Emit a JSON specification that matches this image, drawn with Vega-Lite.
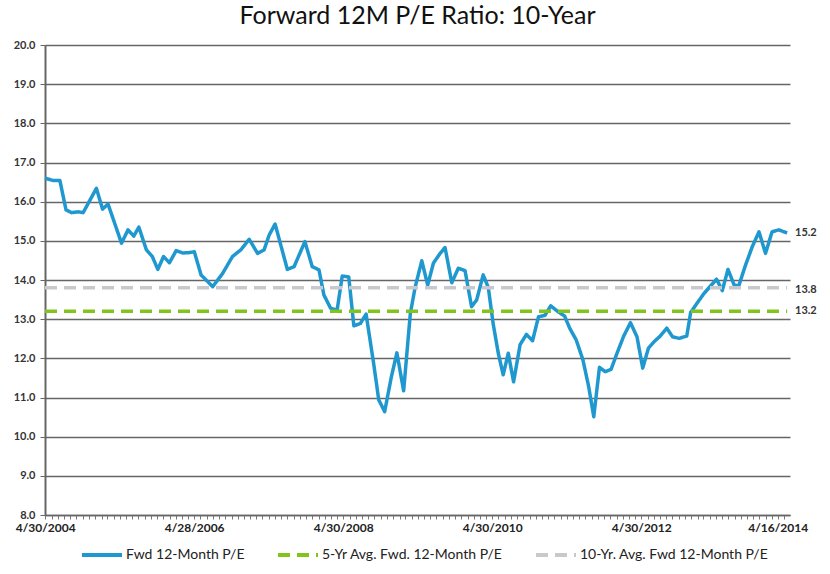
{
  "$schema": "https://vega.github.io/schema/vega-lite/v6.json",
  "width": 745,
  "height": 470,
  "autosize": {"type": "none"},
  "padding": {"left": 45, "top": 45, "right": 40, "bottom": 59},
  "background": "white",
  "title": {"text": "Forward 12M P/E Ratio: 10-Year", "fontSize": 25, "font": "Lato", "fontWeight": "normal", "color": "#111111", "anchor": "middle", "offset": 10},
  "config": {"view": {"stroke": null}, "font": "Lato"},
  "encoding": {
    "x": {
      "field": "date", "type": "temporal",
      "scale": {"domain": [{"year": 2004, "month": 4, "date": 30}, {"year": 2014, "month": 4, "date": 30}]},
      "axis": {
        "title": null,
        "grid": false,
        "ticks": true,
        "tickCount": {"interval": "month", "step": 1},
        "labelExpr": "year(datum.value)==2004 && month(datum.value)==4 ? '4/30/2004' : year(datum.value)==2006 && month(datum.value)==4 ? '4/28/2006' : year(datum.value)==2008 && month(datum.value)==4 ? '4/30/2008' : year(datum.value)==2010 && month(datum.value)==4 ? '4/30/2010' : year(datum.value)==2012 && month(datum.value)==4 ? '4/30/2012' : year(datum.value)==2014 && month(datum.value)==2 ? '4/16/2014' : ''",
        "labelOverlap": false,
        "labelBound": false,
        "labelFlush": false,
        "labelFont": "Lato",
        "labelFontSize": 12,
        "labelFontWeight": "bold",
        "labelColor": "#222222",
        "labelPadding": 3,
        "tickColor": "#777777",
        "tickWidth": 1,
        "tickSize": 4,
        "domainColor": "#666666",
        "domainWidth": 1.5
      }
    },
    "y": {
      "field": "pe", "type": "quantitative",
      "scale": {"domain": [8, 20], "nice": false, "zero": false},
      "axis": {
        "title": null,
        "values": [8, 9, 10, 11, 12, 13, 14, 15, 16, 17, 18, 19, 20],
        "tickCount": 13,
        "labelOverlap": false,
        "format": ".1f",
        "grid": true,
        "gridColor": "#666666",
        "gridWidth": 1.5,
        "domainColor": "#666666",
        "domainWidth": 2,
        "tickColor": "#666666",
        "tickSize": 5,
        "labelFont": "Lato",
        "labelFontSize": 11,
        "labelFontWeight": "bold",
        "labelColor": "#333333",
        "labelPadding": 5
      }
    }
  },
  "layer": [
    {
      "data": {"values": [
        {"date": "2004-04-30", "pe": 16.60, "series": "Fwd 12-Month P/E"},
        {"date": "2004-06-09", "pe": 16.54, "series": "Fwd 12-Month P/E"},
        {"date": "2004-07-12", "pe": 16.54, "series": "Fwd 12-Month P/E"},
        {"date": "2004-08-11", "pe": 15.79, "series": "Fwd 12-Month P/E"},
        {"date": "2004-09-07", "pe": 15.72, "series": "Fwd 12-Month P/E"},
        {"date": "2004-10-10", "pe": 15.74, "series": "Fwd 12-Month P/E"},
        {"date": "2004-11-03", "pe": 15.72, "series": "Fwd 12-Month P/E"},
        {"date": "2005-01-07", "pe": 16.34, "series": "Fwd 12-Month P/E"},
        {"date": "2005-02-06", "pe": 15.81, "series": "Fwd 12-Month P/E"},
        {"date": "2005-03-05", "pe": 15.94, "series": "Fwd 12-Month P/E"},
        {"date": "2005-05-10", "pe": 14.94, "series": "Fwd 12-Month P/E"},
        {"date": "2005-06-11", "pe": 15.28, "series": "Fwd 12-Month P/E"},
        {"date": "2005-07-09", "pe": 15.12, "series": "Fwd 12-Month P/E"},
        {"date": "2005-08-03", "pe": 15.35, "series": "Fwd 12-Month P/E"},
        {"date": "2005-09-09", "pe": 14.77, "series": "Fwd 12-Month P/E"},
        {"date": "2005-10-08", "pe": 14.60, "series": "Fwd 12-Month P/E"},
        {"date": "2005-11-04", "pe": 14.27, "series": "Fwd 12-Month P/E"},
        {"date": "2005-12-02", "pe": 14.60, "series": "Fwd 12-Month P/E"},
        {"date": "2005-12-31", "pe": 14.44, "series": "Fwd 12-Month P/E"},
        {"date": "2006-02-02", "pe": 14.75, "series": "Fwd 12-Month P/E"},
        {"date": "2006-03-06", "pe": 14.69, "series": "Fwd 12-Month P/E"},
        {"date": "2006-04-08", "pe": 14.70, "series": "Fwd 12-Month P/E"},
        {"date": "2006-05-02", "pe": 14.72, "series": "Fwd 12-Month P/E"},
        {"date": "2006-06-04", "pe": 14.13, "series": "Fwd 12-Month P/E"},
        {"date": "2006-07-31", "pe": 13.83, "series": "Fwd 12-Month P/E"},
        {"date": "2006-09-18", "pe": 14.17, "series": "Fwd 12-Month P/E"},
        {"date": "2006-11-05", "pe": 14.60, "series": "Fwd 12-Month P/E"},
        {"date": "2006-12-16", "pe": 14.77, "series": "Fwd 12-Month P/E"},
        {"date": "2007-01-26", "pe": 15.04, "series": "Fwd 12-Month P/E"},
        {"date": "2007-03-08", "pe": 14.68, "series": "Fwd 12-Month P/E"},
        {"date": "2007-04-09", "pe": 14.77, "series": "Fwd 12-Month P/E"},
        {"date": "2007-05-04", "pe": 15.15, "series": "Fwd 12-Month P/E"},
        {"date": "2007-06-02", "pe": 15.43, "series": "Fwd 12-Month P/E"},
        {"date": "2007-08-01", "pe": 14.27, "series": "Fwd 12-Month P/E"},
        {"date": "2007-09-03", "pe": 14.34, "series": "Fwd 12-Month P/E"},
        {"date": "2007-10-26", "pe": 14.98, "series": "Fwd 12-Month P/E"},
        {"date": "2007-12-01", "pe": 14.34, "series": "Fwd 12-Month P/E"},
        {"date": "2008-01-03", "pe": 14.26, "series": "Fwd 12-Month P/E"},
        {"date": "2008-01-27", "pe": 13.62, "series": "Fwd 12-Month P/E"},
        {"date": "2008-02-29", "pe": 13.28, "series": "Fwd 12-Month P/E"},
        {"date": "2008-04-01", "pe": 13.23, "series": "Fwd 12-Month P/E"},
        {"date": "2008-04-26", "pe": 14.10, "series": "Fwd 12-Month P/E"},
        {"date": "2008-05-28", "pe": 14.08, "series": "Fwd 12-Month P/E"},
        {"date": "2008-06-22", "pe": 12.83, "series": "Fwd 12-Month P/E"},
        {"date": "2008-07-24", "pe": 12.89, "series": "Fwd 12-Month P/E"},
        {"date": "2008-08-21", "pe": 13.13, "series": "Fwd 12-Month P/E"},
        {"date": "2008-09-27", "pe": 11.87, "series": "Fwd 12-Month P/E"},
        {"date": "2008-10-22", "pe": 10.94, "series": "Fwd 12-Month P/E"},
        {"date": "2008-11-20", "pe": 10.64, "series": "Fwd 12-Month P/E"},
        {"date": "2008-12-23", "pe": 11.53, "series": "Fwd 12-Month P/E"},
        {"date": "2009-01-19", "pe": 12.14, "series": "Fwd 12-Month P/E"},
        {"date": "2009-02-21", "pe": 11.17, "series": "Fwd 12-Month P/E"},
        {"date": "2009-03-26", "pe": 13.15, "series": "Fwd 12-Month P/E"},
        {"date": "2009-04-19", "pe": 13.83, "series": "Fwd 12-Month P/E"},
        {"date": "2009-05-21", "pe": 14.49, "series": "Fwd 12-Month P/E"},
        {"date": "2009-06-19", "pe": 13.87, "series": "Fwd 12-Month P/E"},
        {"date": "2009-07-17", "pe": 14.43, "series": "Fwd 12-Month P/E"},
        {"date": "2009-08-19", "pe": 14.68, "series": "Fwd 12-Month P/E"},
        {"date": "2009-09-12", "pe": 14.83, "series": "Fwd 12-Month P/E"},
        {"date": "2009-10-15", "pe": 13.93, "series": "Fwd 12-Month P/E"},
        {"date": "2009-11-16", "pe": 14.30, "series": "Fwd 12-Month P/E"},
        {"date": "2009-12-19", "pe": 14.24, "series": "Fwd 12-Month P/E"},
        {"date": "2010-01-20", "pe": 13.32, "series": "Fwd 12-Month P/E"},
        {"date": "2010-02-14", "pe": 13.49, "series": "Fwd 12-Month P/E"},
        {"date": "2010-03-18", "pe": 14.13, "series": "Fwd 12-Month P/E"},
        {"date": "2010-04-12", "pe": 13.81, "series": "Fwd 12-Month P/E"},
        {"date": "2010-05-06", "pe": 12.88, "series": "Fwd 12-Month P/E"},
        {"date": "2010-05-31", "pe": 12.13, "series": "Fwd 12-Month P/E"},
        {"date": "2010-06-24", "pe": 11.58, "series": "Fwd 12-Month P/E"},
        {"date": "2010-07-19", "pe": 12.13, "series": "Fwd 12-Month P/E"},
        {"date": "2010-08-14", "pe": 11.40, "series": "Fwd 12-Month P/E"},
        {"date": "2010-09-15", "pe": 12.35, "series": "Fwd 12-Month P/E"},
        {"date": "2010-10-16", "pe": 12.61, "series": "Fwd 12-Month P/E"},
        {"date": "2010-11-15", "pe": 12.45, "series": "Fwd 12-Month P/E"},
        {"date": "2010-12-14", "pe": 13.06, "series": "Fwd 12-Month P/E"},
        {"date": "2011-01-15", "pe": 13.10, "series": "Fwd 12-Month P/E"},
        {"date": "2011-02-12", "pe": 13.34, "series": "Fwd 12-Month P/E"},
        {"date": "2011-03-20", "pe": 13.19, "series": "Fwd 12-Month P/E"},
        {"date": "2011-04-21", "pe": 13.08, "series": "Fwd 12-Month P/E"},
        {"date": "2011-05-16", "pe": 12.77, "series": "Fwd 12-Month P/E"},
        {"date": "2011-06-17", "pe": 12.47, "series": "Fwd 12-Month P/E"},
        {"date": "2011-07-20", "pe": 11.96, "series": "Fwd 12-Month P/E"},
        {"date": "2011-08-17", "pe": 11.28, "series": "Fwd 12-Month P/E"},
        {"date": "2011-09-11", "pe": 10.51, "series": "Fwd 12-Month P/E"},
        {"date": "2011-10-09", "pe": 11.77, "series": "Fwd 12-Month P/E"},
        {"date": "2011-11-06", "pe": 11.66, "series": "Fwd 12-Month P/E"},
        {"date": "2011-12-05", "pe": 11.72, "series": "Fwd 12-Month P/E"},
        {"date": "2012-01-03", "pe": 12.13, "series": "Fwd 12-Month P/E"},
        {"date": "2012-02-05", "pe": 12.57, "series": "Fwd 12-Month P/E"},
        {"date": "2012-03-09", "pe": 12.91, "series": "Fwd 12-Month P/E"},
        {"date": "2012-04-10", "pe": 12.55, "series": "Fwd 12-Month P/E"},
        {"date": "2012-05-08", "pe": 11.75, "series": "Fwd 12-Month P/E"},
        {"date": "2012-06-05", "pe": 12.26, "series": "Fwd 12-Month P/E"},
        {"date": "2012-07-04", "pe": 12.43, "series": "Fwd 12-Month P/E"},
        {"date": "2012-08-02", "pe": 12.57, "series": "Fwd 12-Month P/E"},
        {"date": "2012-09-03", "pe": 12.77, "series": "Fwd 12-Month P/E"},
        {"date": "2012-10-01", "pe": 12.55, "series": "Fwd 12-Month P/E"},
        {"date": "2012-11-03", "pe": 12.51, "series": "Fwd 12-Month P/E"},
        {"date": "2012-12-10", "pe": 12.57, "series": "Fwd 12-Month P/E"},
        {"date": "2012-12-29", "pe": 13.17, "series": "Fwd 12-Month P/E"},
        {"date": "2013-01-31", "pe": 13.42, "series": "Fwd 12-Month P/E"},
        {"date": "2013-03-05", "pe": 13.66, "series": "Fwd 12-Month P/E"},
        {"date": "2013-04-06", "pe": 13.85, "series": "Fwd 12-Month P/E"},
        {"date": "2013-05-05", "pe": 14.02, "series": "Fwd 12-Month P/E"},
        {"date": "2013-06-02", "pe": 13.73, "series": "Fwd 12-Month P/E"},
        {"date": "2013-06-30", "pe": 14.27, "series": "Fwd 12-Month P/E"},
        {"date": "2013-08-01", "pe": 13.85, "series": "Fwd 12-Month P/E"},
        {"date": "2013-08-23", "pe": 13.87, "series": "Fwd 12-Month P/E"},
        {"date": "2013-09-24", "pe": 14.38, "series": "Fwd 12-Month P/E"},
        {"date": "2013-10-27", "pe": 14.85, "series": "Fwd 12-Month P/E"},
        {"date": "2013-11-29", "pe": 15.23, "series": "Fwd 12-Month P/E"},
        {"date": "2013-12-31", "pe": 14.68, "series": "Fwd 12-Month P/E"},
        {"date": "2014-02-01", "pe": 15.23, "series": "Fwd 12-Month P/E"},
        {"date": "2014-03-06", "pe": 15.28, "series": "Fwd 12-Month P/E"},
        {"date": "2014-04-16", "pe": 15.20, "series": "Fwd 12-Month P/E"},
        {"date": "2004-04-30", "pe": 13.2, "series": "5-Yr Avg. Fwd. 12-Month P/E"},
        {"date": "2014-04-16", "pe": 13.2, "series": "5-Yr Avg. Fwd. 12-Month P/E"},
        {"date": "2004-04-30", "pe": 13.8, "series": "10-Yr. Avg. Fwd 12-Month P/E"},
        {"date": "2014-04-16", "pe": 13.8, "series": "10-Yr. Avg. Fwd 12-Month P/E"}
      ]},
      "mark": {"type": "line", "strokeWidth": 3.5, "strokeJoin": "round"},
      "encoding": {
        "color": {
          "field": "series", "type": "nominal",
          "scale": {"domain": ["Fwd 12-Month P/E", "5-Yr Avg. Fwd. 12-Month P/E", "10-Yr. Avg. Fwd 12-Month P/E"], "range": ["#1f98cf", "#80c41c", "#c9c9cd"]},
          "legend": {"title": null, "orient": "none", "legendX": 35, "legendY": 488, "direction": "horizontal", "symbolType": "stroke", "symbolSize": 1600, "symbolStrokeWidth": 4, "labelFont": "Lato", "labelFontSize": 14, "labelColor": "#222222", "labelLimit": 400, "columnPadding": 25, "labelOffset": 2}
        },
        "strokeDash": {
          "field": "series", "type": "nominal",
          "scale": {"domain": ["Fwd 12-Month P/E", "5-Yr Avg. Fwd. 12-Month P/E", "10-Yr. Avg. Fwd 12-Month P/E"], "range": [[1, 0], [12, 7], [12, 7]]},
          "legend": {"title": null, "orient": "none", "legendX": 35, "legendY": 488, "direction": "horizontal", "symbolType": "stroke", "symbolSize": 1600, "symbolStrokeWidth": 4, "labelFont": "Lato", "labelFontSize": 14, "labelColor": "#222222", "labelLimit": 400, "columnPadding": 25, "labelOffset": 2}
        }
      }
    },
    {
      "data": {"values": [
        {"date": "2014-04-30", "pe": 15.2, "label": "15.2"},
        {"date": "2014-04-30", "pe": 13.75, "label": "13.8"},
        {"date": "2014-04-30", "pe": 13.2, "label": "13.2"}
      ]},
      "mark": {"type": "text", "align": "left", "dx": 5, "fontSize": 11, "fontWeight": "bold", "font": "Lato", "color": "#333333"},
      "encoding": {
        "text": {"field": "label"}
      }
    }
  ]
}
